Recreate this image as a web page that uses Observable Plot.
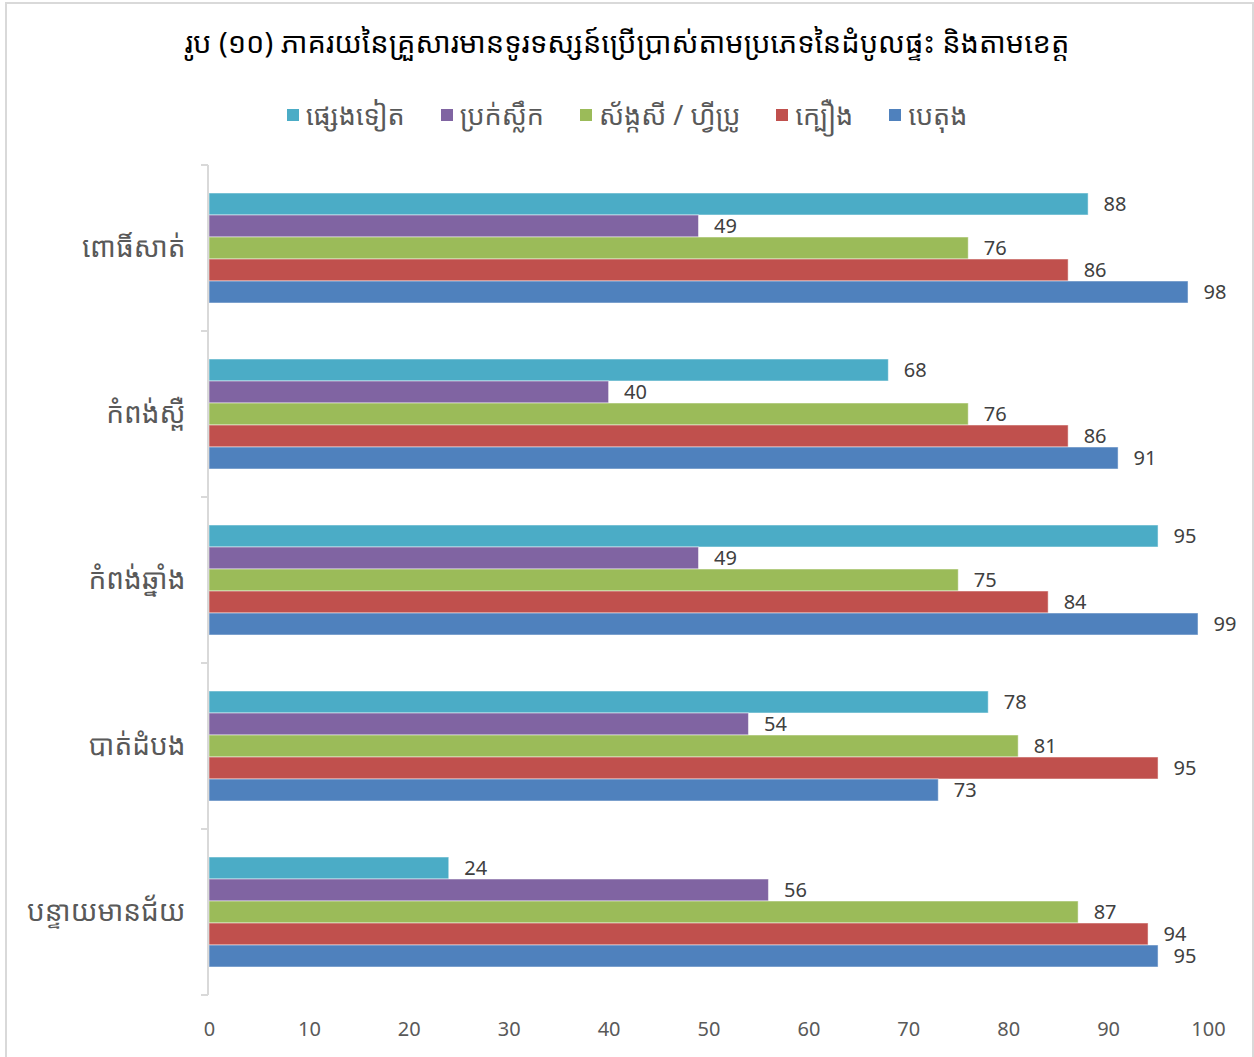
<!DOCTYPE html>
<html><head><meta charset="utf-8">
<script src="https://cdn.jsdelivr.net/npm/d3@7"></script>
<script src="https://cdn.jsdelivr.net/npm/@observablehq/plot@0.6"></script>
<style>
body{margin:0;background:#fff;font-family:"Noto Sans Khmer","Khmer OS","Noto Sans","Open Sans",sans-serif;}
#frame{position:absolute;left:5px;top:2px;width:1249px;height:1060px;border:2px solid #d9d9d9;border-bottom:none;box-sizing:border-box;}
#title{position:absolute;top:22px;left:0;width:1254px;text-align:center;font-size:29px;color:#000;}
#legend{position:absolute;top:96px;left:0;width:1254px;display:flex;justify-content:center;gap:36px;font-size:27px;color:#595959;}
#legend .item{display:flex;align-items:center;gap:7px;}
#legend .sw{width:12px;height:12px;display:inline-block;}
#chart{position:absolute;top:150px;left:0;}
</style>
</head><body>
<div id="frame"></div>
<div id="title"></div>
<div id="legend"></div>
<div id="chart"></div>
<script>
const title = "រូប (១០) ភាគរយនៃគ្រួសារមានទូរទស្សន៍ប្រើប្រាស់តាមប្រភេទនៃដំបូលផ្ទះ និងតាមខេត្ត";
const provinces = ["ពោធិ៍សាត់", "កំពង់ស្ពឺ", "កំពង់ឆ្នាំង", "បាត់ដំបង", "បន្ទាយមានជ័យ"];
const series = ["ផ្សេងទៀត", "ប្រក់ស្លឹក", "ស័ង្កសី / ហ្វីប្រូ", "ក្បឿង", "បេតុង"];
const colors = ["#4bacc6", "#8064a2", "#9bbb59", "#c0504d", "#4f81bd"];
const other   = [88, 68, 95, 78, 24];
const thatch  = [49, 40, 49, 54, 56];
const zinc    = [76, 76, 75, 81, 87];
const tile    = [86, 86, 84, 95, 94];
const concrete= [98, 91, 99, 73, 95];
const xTicks = [0, 10, 20, 30, 40, 50, 60, 70, 80, 90, 100];

const valuesBySeries = [other, thatch, zinc, tile, concrete];
const data = [];
provinces.forEach((p, i) => series.forEach((s, j) => data.push({province: p, series: s, value: valuesBySeries[j][i]})));

document.getElementById("title").textContent = title;
const legend = document.getElementById("legend");
series.forEach((s, j) => {
  const it = document.createElement("div"); it.className = "item";
  const sw = document.createElement("span"); sw.className = "sw"; sw.style.background = colors[j];
  const tx = document.createElement("span"); tx.textContent = s;
  it.append(sw, tx); legend.append(it);
});

const W = 1254, H = 900;
const plot = Plot.plot({
  width: W, height: H,
  marginLeft: 209, marginRight: 46, marginTop: 15, marginBottom: 55,
  style: {fontFamily: "'Noto Sans Khmer','Khmer OS','Noto Sans','Open Sans',sans-serif", background: "transparent"},
  x: {domain: [0, 100], ticks: xTicks, tickSize: 0, tickPadding: 54, label: null, tickFormat: d => d},
  y: {domain: series, padding: 0, axis: null},
  fy: {domain: provinces, paddingInner: 0.34, paddingOuter: 0.17, label: null, tickSize: 0, tickPadding: 24},
  color: {domain: series, range: colors},
  facet: {data, y: "province", marginLeft: 209},
  marks: [
    Plot.barX(data, {x: "value", y: "series", fill: "series", stroke: "white", strokeOpacity: 0.5, strokeWidth: 1}),
    Plot.text(data, {x: "value", y: "series", text: d => String(d.value), textAnchor: "start", dx: 15, fill: "#404040", fontSize: 20})
  ]
});
document.getElementById("chart").append(plot);

// style axes
const svg = d3.select(plot);
svg.selectAll("[aria-label='x-axis tick label']").attr("fill", "#595959").style("font-size", "20px");
svg.selectAll("[aria-label='fy-axis tick label']").attr("fill", "#595959").style("font-size", "28px");

// vertical axis line and category boundary ticks from scales
const fy = plot.scale("fy"), xs = plot.scale("x");
const x0 = xs.apply(0);
const gap = (fy.step - fy.bandwidth) / 2;
const bounds = provinces.map(p => fy.apply(p) - gap);
bounds.push(fy.apply(provinces[provinces.length - 1]) + fy.bandwidth + gap);
const g = svg.append("g").attr("stroke", "#d9d9d9").attr("stroke-width", 2);
g.append("line").attr("x1", x0 - 1).attr("x2", x0 - 1).attr("y1", bounds[0]).attr("y2", bounds[bounds.length - 1]);
bounds.forEach(b => g.append("line").attr("x1", x0 - 8).attr("x2", x0 - 1).attr("y1", b).attr("y2", b));
</script>
</body></html>
